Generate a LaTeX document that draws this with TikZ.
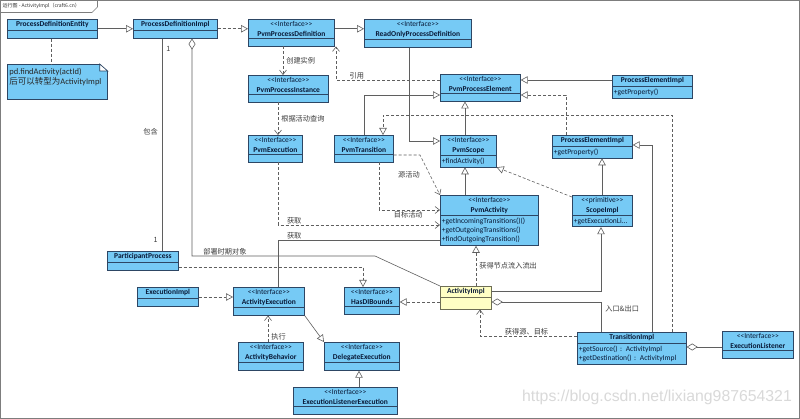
\documentclass[tikz,border=0pt]{standalone}
\usepackage{fontspec}
\setmainfont{Carlito}
\newfontfamily\cjk{Noto Sans CJK SC}
\newfontfamily\wmfont{Liberation Sans}
\usepackage{tikz}
\usetikzlibrary{shapes.multipart,arrows.meta}
\definecolor{boxblue}{RGB}{118,202,245}
\definecolor{boxline}{RGB}{45,70,100}
\definecolor{lnc}{RGB}{95,95,95}
\definecolor{implfill}{RGB}{255,255,196}
\definecolor{implline}{RGB}{110,110,85}
\definecolor{navytxt}{RGB}{8,25,55}
\definecolor{lbltxt}{RGB}{60,60,60}
\definecolor{framec}{RGB}{125,125,125}
\newcommand\clsfont{\fontsize{7.5}{9.2}\selectfont}
\newcommand\stereo[2]{<{}<#1>{}>\\\textbf{#2}}
\newcommand\noattr{\nodepart{two}\rule{0pt}{3pt}}
\newcommand\ops[1]{\nodepart{two}\parbox[t]{\hsize}{\raggedright #1}}
\tikzset{
  cls/.style={ draw=boxline, fill=boxblue, line width=0.7pt, rectangle split, rectangle split parts=2,
    anchor=north west, inner xsep=1.5pt, inner ysep=2pt, text width=#1, align=center,
    font=\clsfont, text=navytxt }
}
\tikzset{
  impl/.style={ cls=#1, fill=implfill, draw=implline }
}
\tikzset{
  notebox/.style={ draw=boxline, fill=boxblue, line width=0.7pt, anchor=north west, text width=96pt,
    inner xsep=2pt, inner ysep=2pt, minimum height=35pt, align=left,
    font=\fontsize{8.5}{10}\selectfont, text=black!85 }
}
\tikzset{
  lbl/.style={ font=\cjk\fontsize{7.2}{8.6}\selectfont, text=lbltxt, inner sep=1pt }
}
\tikzset{
  gen/.style={ draw=lnc, line width=0.6pt, -{Triangle[open,length=7pt,width=7.5pt]} },
  real/.style={ gen, dash pattern=on 3pt off 2pt },
  dep/.style={ draw=lnc, line width=0.6pt, dash pattern=on 3pt off 2pt, -{Straight Barb[length=4.5pt,width=7pt]} },
  agg/.style={ draw=lnc, line width=0.6pt, {Diamond[open,length=11pt,width=7pt]}- },
  assoc/.style={ draw=lnc, line width=0.6pt }
}

\begin{document}
\begin{tikzpicture}[x=1pt, y=-1pt]
  \useasboundingbox (0,0) rectangle (800,419);
  \fill[white] (0,0) rectangle (800,419);
  \draw[framec, line width=1.2pt] (0.6,0.6) rectangle (799.4,418.4);
  \node[anchor=west, font=\cjk\fontsize{5}{6}\selectfont, text=black!80, inner sep=0] (ttl) at (2.5,6.3) {运行图 - ActivityImpl（craft6.cn）};
  \draw[framec, line width=0.6pt] (0,12.5) -- (92,12.5) -- (97.5,7) -- (97.5,0);

  % classes
  \node[cls=87pt] (pde) at (7,19) {\textbf{ProcessDefinitionEntity}\noattr};
  \node[cls=81pt] (pdi) at (133,19) {\textbf{ProcessDefinitionImpl}\noattr};
  \node[cls=83pt] (ppd) at (248,19) {\stereo{Interface}{PvmProcessDefinition}\noattr};
  \node[cls=104pt] (ropd) at (364,19) {\stereo{Interface}{ReadOnlyProcessDefinition}\noattr};
  \node[cls=77pt] (ppi) at (248,75) {\stereo{Interface}{PvmProcessInstance}\noattr};
  \node[cls=77pt] (ppe) at (440,74) {\stereo{Interface}{PvmProcessElement}\noattr};
  \node[cls=77pt] (peitop) at (612,75) {\textbf{ProcessElementImpl}\ops{+getProperty()}};
  \node[cls=51pt] (pex) at (248,135) {\stereo{Interface}{PvmExecution}\noattr};
  \node[cls=56pt] (ptr) at (334,135) {\stereo{Interface}{PvmTransition}\noattr};
  \node[cls=53pt] (psc) at (440,135) {\stereo{Interface}{PvmScope}\ops{+findActivity()}};
  \node[cls=77pt] (pei) at (552,135) {\textbf{ProcessElementImpl}\ops{+getProperty()}};
  \node[cls=95pt] (pac) at (440,195) {\stereo{Interface}{PvmActivity}\ops{+getIncomingTransitions()()\\+getOutgoingTransitions()\\+findOutgoingTransition()}};
  \node[cls=57pt] (sci) at (572,195) {\stereo{primitive}{ScopeImpl}\ops{+getExecutionLi...}};
  \node[cls=68pt] (pp) at (107,251) {\textbf{ParticipantProcess}\noattr};
  \node[cls=58pt] (exi) at (137,287) {\textbf{ExecutionImpl}\noattr};
  \node[cls=68pt] (aex) at (233,287) {\stereo{Interface}{ActivityExecution}\noattr};
  \node[cls=52pt] (hdb) at (344,287) {\stereo{Interface}{HasDIBounds}\noattr};
  \node[impl=48pt] (aim) at (440,286) {\textbf{ActivityImpl}\nodepart{two}\rule{0pt}{7pt}};
  \node[cls=62pt] (abh) at (238,342) {\stereo{Interface}{ActivityBehavior}\noattr};
  \node[cls=72pt] (dex) at (324,342) {\stereo{Interface}{DelegateExecution}\noattr};
  \node[cls=101pt] (elx) at (293,387) {\stereo{Interface}{ExecutionListenerExecution}\noattr};
  \node[cls=106pt] (tri) at (577,332) {\textbf{TransitionImpl}\ops{+getSource() : ActivityImpl\\+getDestination() : ActivityImpl}};
  \node[cls=68pt] (exl) at (722,331) {\stereo{Interface}{ExecutionListener}\noattr};

  % note
  \node[notebox] (note) at (7,64) {pd.findActivity(actId)\\{\cjk 后可以转型为}ActivityImpl\\ \mbox{}};
  \fill[white] ([xshift=-8pt,yshift=0.6pt]note.north east) rectangle ([xshift=0.6pt,yshift=-7pt]note.north east);
  \draw[boxline, line width=0.7pt] ([xshift=-8pt]note.north east) -- ([xshift=-8pt,yshift=-7pt]note.north east) -- ([yshift=-7pt]note.north east) -- cycle;
  \draw[lnc, line width=0.6pt, dash pattern=on 3pt off 2pt] (51,0 |- pde.south) -- (51,0 |- note.north);

  % top row
  \draw[gen] (pde.east) -- (pdi.west);
  \draw[real] (pdi.east) -- (ppd.west |- pdi.east);
  \draw[gen] (ppd.east |- pdi.east) -- (ropd.west |- pdi.east);
  \draw[dep] (283,0 |- ppd.south) -- (283,0 |- ppi.north) node[lbl, midway, right=2pt] (lcreate) {创建实例};
  \draw[dep] (ppe.west |- 0,80) -| (336,0 |- ppd.south) node[lbl, pos=0.4, above] (lref) {引用};
  \draw[dep] (278,0 |- ppi.south) -- (278,0 |- pex.north) node[lbl, midway, right=2pt] (lquery) {根据活动查询};

  % element hierarchy
  \draw[gen] (409,0 |- ropd.south) |- (psc.west |- 0,141);
  \draw[gen] (364,0 |- ptr.north) |- (ppe.west |- 0,95);
  \draw[gen] (465,0 |- psc.north) -- (465,0 |- ppe.south);
  \draw[gen] (peitop.west |- 0,80) -- (ppe.east |- 0,80);
  \draw[real] (566,0 |- pei.north) |- (ppe.east |- 0,95);
  \draw[gen] (652,0 |- tri.north) |- (pei.east |- 0,145);
  \draw[real] (672,0 |- tri.north) |- (383,115) -- (383,0 |- ptr.north);
  \draw[gen] (602,0 |- sci.north) -- (602,0 |- pei.south);
  \draw[real] ([yshift=-2pt]sci.north west) -- (psc.south east);
  \draw[gen] (465,0 |- pac.north) -- (465,0 |- psc.south);

  % activity links
  \draw[dep] (ptr.east |- 0,155) -- (420,155) -- (pac.north west) node[lbl, midway, left=9pt] (lsrc) {源活动};
  \draw[dep] (379,0 |- ptr.south) |- (pac.west |- 0,210) node[lbl, pos=0.74, below] (ltgt) {目标活动};
  \draw[dep] (278,0 |- pex.south) |- (pac.west |- 0,225) node[lbl, pos=0.55, above] (lget1) {获取};
  \draw[assoc] (278,0 |- aex.north) |- (pac.west |- 0,240) node[lbl, pos=0.55, above] (lget2) {获取};
  \draw[agg] (192,0 |- pdi.south) |- (375,256) node[lbl, pos=0.59, above] (ldeploy) {部署时期对象} -- (aim.north west);
  \draw[assoc] (162,0 |- pdi.south) -- (162,0 |- pp.north)
    node[lbl, pos=0.05, right=3pt] (mtop) {1}
    node[lbl, pos=0.44, left=3pt] (lcontain) {包含}
    node[lbl, pos=0.95, left=3pt] (mbot) {1};

  % execution side
  \draw[real] (pp.east |- 0,267) -| (363,0 |- hdb.north);
  \draw[real] (exi.east |- 0,297) -- (aex.west |- 0,297);
  \draw[dep] (268,0 |- abh.north) -- (268,0 |- aex.south) node[lbl, pos=0.2, right=2pt] (lexec) {执行};
  \draw[gen] (aex.south east) -- (dex.north west);
  \draw[gen] (359,0 |- elx.north) -- (359,0 |- dex.south);

  % ActivityImpl
  \draw[real] (aim.west |- 0,302) -- (hdb.east |- 0,302);
  \draw[real] (476,0 |- aim.north) -- (476,0 |- pac.south) node[lbl, midway, right=2pt] (lio) {获得节点流入流出};
  \draw[gen] (aim.east |- 0,291) -| (601,0 |- sci.south);
  \draw[agg] (aim.east |- 0,302) -| (601,0 |- tri.north) node[lbl, pos=0.62, right=3pt] (lentry) {入口\&出口};
  \draw[dep] (tri.west |- 0,336) -| (480,0 |- aim.south) node[lbl, pos=0.26, above] (lsd) {获得源、目标};
  \draw[agg] (tri.east |- 0,347) -- (exl.west |- 0,347);

  \node[font=\wmfont\fontsize{15.8}{18}\selectfont, text=black!15, inner sep=0] (wm) at (657,397) {https://blog.csdn.net/lixiang987654321};
\end{tikzpicture}
\end{document}
